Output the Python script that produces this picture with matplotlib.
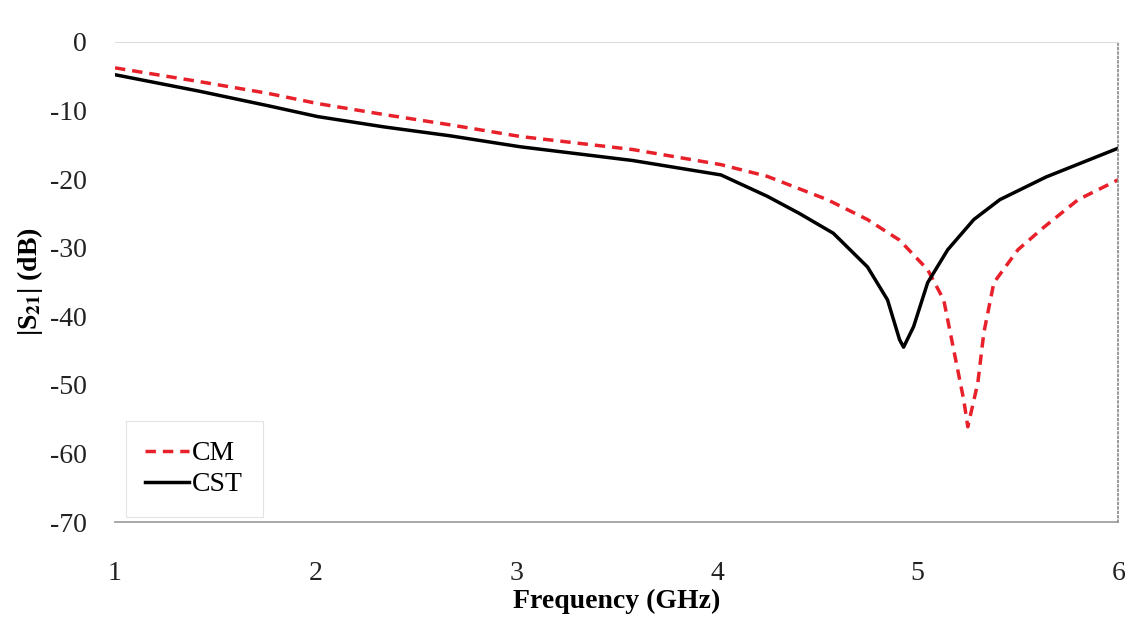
import numpy as np
import matplotlib.pyplot as plt

plt.rcParams['font.family'] = ['Liberation Serif', 'DejaVu Serif']
plt.rcParams['mathtext.fontset'] = 'stix'
plt.rcParams['axes.unicode_minus'] = False

# CST simulation (black solid)
f_cst = [1.0, 1.42, 1.76, 2.01, 2.34, 2.67, 3.02, 3.58, 4.02, 4.25, 4.41, 4.58,
         4.75, 4.85, 4.91, 4.93, 4.98, 5.05, 5.15, 5.28, 5.41, 5.64, 6.0]
s_cst = [-4.8, -7.2, -9.3, -10.9, -12.4, -13.7, -15.3, -17.3, -19.4, -22.5, -25.0, -27.9,
         -32.8, -37.6, -43.4, -44.5, -41.5, -35.1, -30.3, -25.9, -23.0, -19.7, -15.5]

# circuit model (red dashed)
f_cm = [1.0, 1.42, 1.76, 2.01, 2.34, 2.67, 3.02, 3.58, 4.02, 4.25, 4.55, 4.75,
        4.91, 5.05, 5.13, 5.18, 5.23, 5.25, 5.30, 5.33, 5.38, 5.50, 5.63, 5.80, 6.0]
s_cm = [-3.8, -5.8, -7.5, -9.0, -10.6, -12.1, -13.8, -15.7, -17.9, -19.6, -23.0, -25.9,
        -28.9, -33.2, -37.6, -44.9, -52.2, -56.1, -49.7, -42.4, -35.1, -30.3, -27.0, -23.0, -20.1]

xticks = [1, 2, 3, 4, 5, 6]
yticks = [0, -10, -20, -30, -40, -50, -60, -70]

fig = plt.figure(figsize=(11.33, 6.33), dpi=100)
ax = fig.add_axes([0.1015, 0.175, 0.8855, 0.759])

ax.plot(f_cm, s_cm, color='#e8202a', lw=2.5, ls=(0, (3, 2)), label='CM')
ax.plot(f_cst, s_cst, color='black', lw=2.5, label='CST')

ax.set_xlim(1, 6)
ax.set_ylim(-70, 0)
ax.set_xticks(xticks)
ax.set_yticks(yticks)
ax.tick_params(axis='both', length=0, labelsize=20, colors='#222222')
ax.tick_params(axis='x', pad=28)
ax.tick_params(axis='y', pad=20)

ax.spines['left'].set_visible(False)
ax.spines['top'].set_color('#dddddd')
ax.spines['top'].set_linewidth(0.8)
ax.spines['right'].set_color('#888888')
ax.spines['right'].set_linestyle(':')
ax.spines['right'].set_linewidth(1.2)
ax.spines['bottom'].set_color('#999999')
ax.spines['bottom'].set_linewidth(1.2)

ax.set_xlabel('Frequency (GHz)', fontsize=20, fontweight='bold', labelpad=2)
ax.set_ylabel(r'|S$_{\mathbf{21}}$| (dB)', fontsize=20, fontweight='bold', labelpad=4)

leg = ax.legend(loc='lower left', fontsize=20, frameon=True, handlelength=1.6,
                handletextpad=0.1, borderpad=0.4, labelspacing=0.2,
                bbox_to_anchor=(0.005, 0.0))
leg.get_frame().set_edgecolor('#dddddd')
leg.get_frame().set_linewidth(0.8)
leg.get_frame().set_boxstyle('square')

fig.savefig('out.png', dpi=100, facecolor='white')
